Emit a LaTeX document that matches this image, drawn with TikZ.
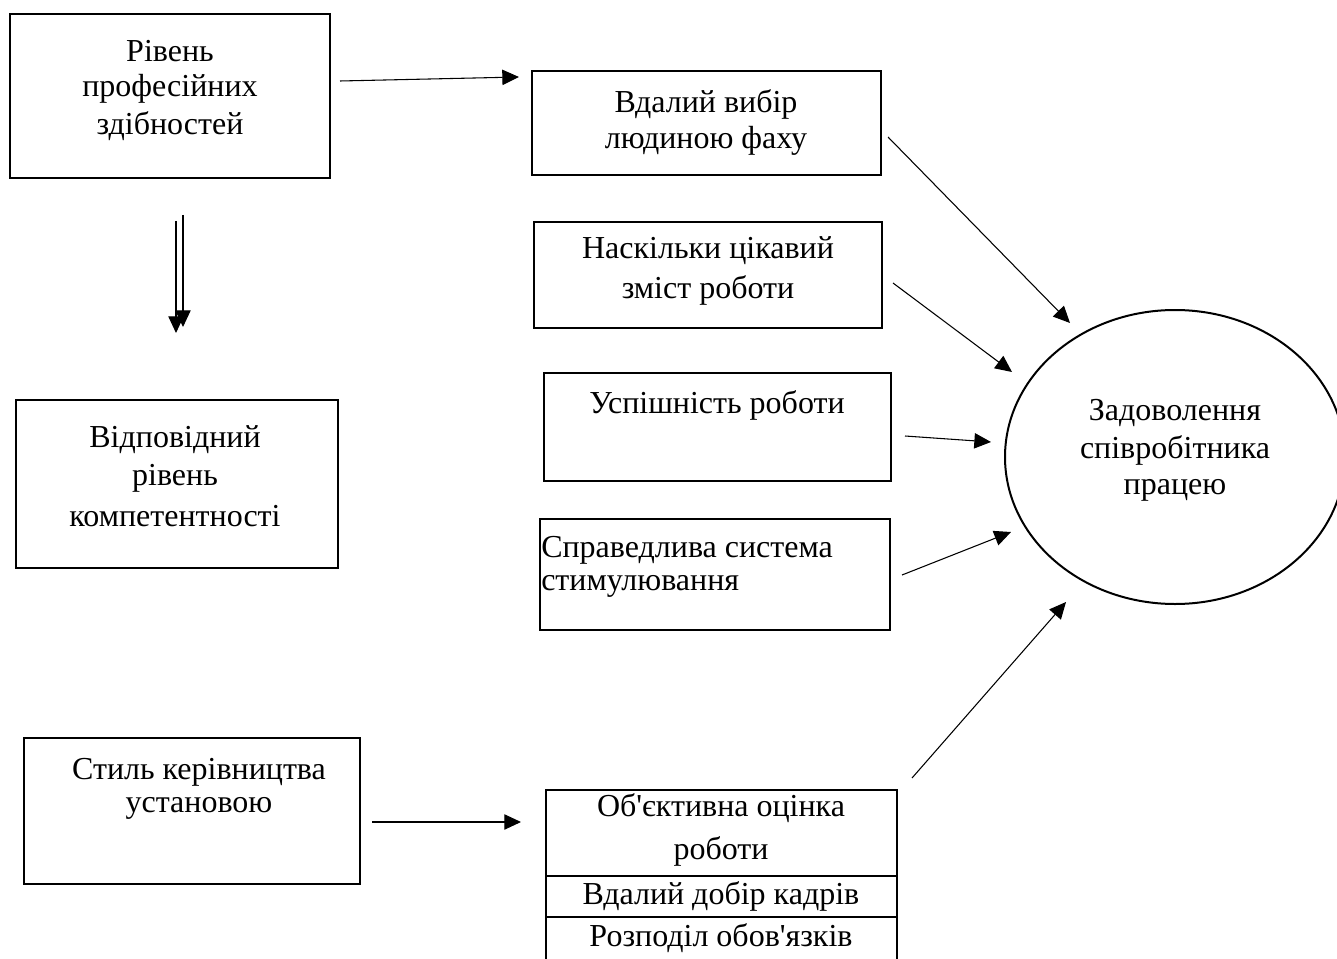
\documentclass[tikz,border=0pt]{standalone}
\usepackage{fontspec}
\setmainfont{Liberation Serif}[Ligatures=TeXOff]
\usetikzlibrary{arrows.meta}
\begin{document}
\begin{tikzpicture}[x=0.75pt,y=-0.75pt,
  box/.style={draw,line width=1.5pt,inner sep=0pt},
  txt/.style={inner sep=0pt,font=\fontsize{24}{28}\selectfont},
  arr/.style={line width=0.8pt,-{Triangle[length=12.5pt,width=11.5pt]}}]
\useasboundingbox (0,0) rectangle (1337,959);
% left boxes
\node[box,minimum width=320*0.75pt,minimum height=164*0.75pt] (b1) at (170,96) {};
\node[txt] (t1a) at (170,51) {Рівень};
\node[txt] (t1b) at (170,89) {професійних};
\node[txt] (t1c) at (170,126) {здібностей};
\node[box,minimum width=322*0.75pt,minimum height=168*0.75pt] (b2) at (177,484) {};
\node[txt] (t2a) at (175,440) {Відповідний};
\node[txt] (t2b) at (175,478) {рівень};
\node[txt] (t2c) at (175,516) {компетентності};
\node[box,minimum width=336*0.75pt,minimum height=146*0.75pt] (b3) at (192,811) {};
\node[txt] (t3a) at (199,772) {Стиль керівництва};
\node[txt] (t3b) at (199,808) {установою};
% middle boxes
\node[box,minimum width=349*0.75pt,minimum height=104*0.75pt] (b4) at (706.5,123) {};
\node[txt] (t4a) at (706,104) {Вдалий вибір};
\node[txt] (t4b) at (706,141) {людиною фаху};
\node[box,minimum width=348*0.75pt,minimum height=106*0.75pt] (b5) at (708,275) {};
\node[txt] (t5a) at (708,251) {Наскільки цікавий};
\node[txt] (t5b) at (708,290) {зміст роботи};
\node[box,minimum width=347*0.75pt,minimum height=108*0.75pt] (b6) at (717.5,427) {};
\node[txt] (t6) at (717,405) {Успішність роботи};
\node[box,minimum width=350*0.75pt,minimum height=111*0.75pt] (b7) at (715,574.5) {};
\node[txt,anchor=west] (t7a) at (541,550) {Справедлива система};
\node[txt,anchor=west] (t7b) at (541,586) {стимулювання};
% stacked box
\draw[line width=1.5pt] (546,959) coordinate (s1) -- (546,790) coordinate (s2) -- (897,790) coordinate (s3) -- (897,959) coordinate (s4);
\draw[line width=1.5pt] (546,876) coordinate (d1) -- (897,876) coordinate (d2);
\draw[line width=1.5pt] (546,917) coordinate (d3) -- (897,917) coordinate (d4);
\node[txt] (t8a) at (721,808) {Об'єктивна оцінка};
\node[txt] (t8b) at (721,851) {роботи};
\node[txt] (t8c) at (721,896) {Вдалий добір кадрів};
\node[txt] (t8d) at (721,938) {Розподіл обов'язків};
% ellipse
\draw[line width=1.5pt] (1175,457) ellipse [x radius=170, y radius=147];
\node[txt] (e1) at (1175,413) {Задоволення};
\node[txt] (e2) at (1175,450) {співробітника};
\node[txt] (e3) at (1175,490) {працею};
% connectors
\coordinate (a1s) at (340,81); \coordinate (a1e) at (519,77);
\draw[arr] (a1s) -- (a1e);
\coordinate (dl1s) at (176,221); \coordinate (dl1e) at (176,333);
\coordinate (dl2s) at (183,215); \coordinate (dl2e) at (183,327);
\draw[arr] (dl1s) -- (dl1e);
\draw[arr] (dl2s) -- (dl2e);
\coordinate (a3s) at (888,137); \coordinate (a3e) at (1070,323);
\draw[arr] (a3s) -- (a3e);
\coordinate (a4s) at (893,283); \coordinate (a4e) at (1012,372);
\draw[arr] (a4s) -- (a4e);
\coordinate (a5s) at (905,436); \coordinate (a5e) at (991,442);
\draw[arr] (a5s) -- (a5e);
\coordinate (a6s) at (902,575); \coordinate (a6e) at (1011,532);
\draw[arr] (a6s) -- (a6e);
\coordinate (a7s) at (912,778); \coordinate (a7e) at (1066,602);
\draw[arr] (a7s) -- (a7e);
\coordinate (a8s) at (372,822); \coordinate (a8e) at (521,822);
\draw[arr] (a8s) -- (a8e);
\end{tikzpicture}
\end{document}
